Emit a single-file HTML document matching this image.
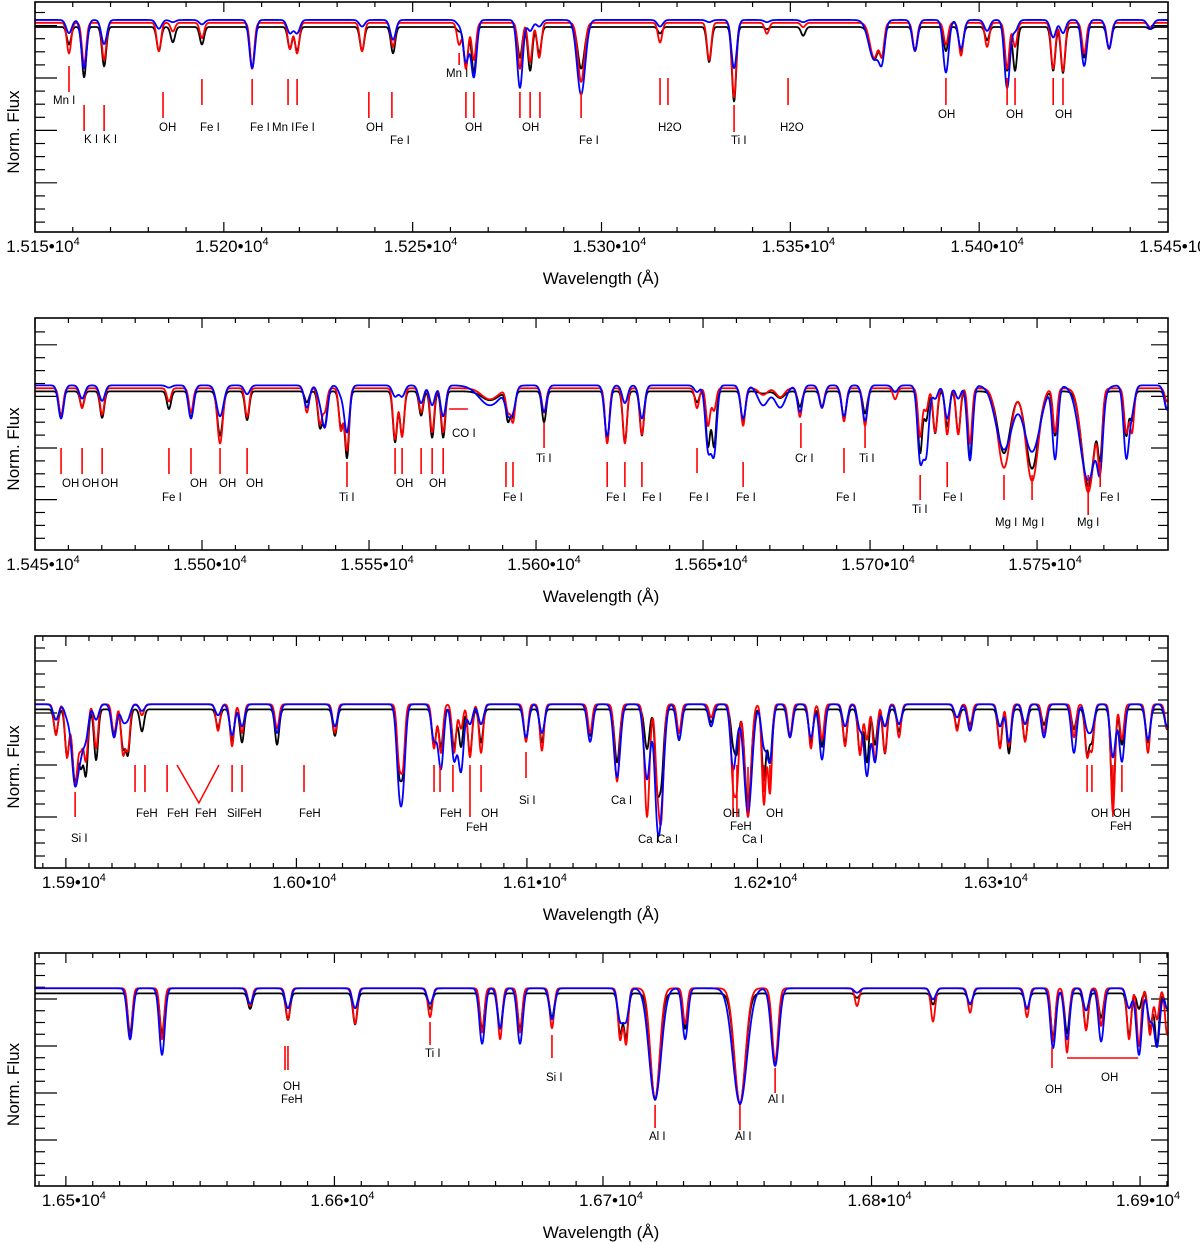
<!DOCTYPE html>
<html><head><meta charset="utf-8"><title>Spectra</title>
<style>
html,body{margin:0;padding:0;background:#fff;}
svg{display:block;font-family:"Liberation Sans",sans-serif;}
.lab{font-size:11.5px;fill:#000;}
.tick{font-size:17px;fill:#000;}
.ttl{font-size:17px;fill:#000;}
</style></head>
<body>
<svg id="chart" width="1200" height="1242" viewBox="0 0 1200 1242" xmlns="http://www.w3.org/2000/svg"></svg>
<script>
// ---------- Panel 1 data ----------
const p1Wl=[15159.0,15163.0,15168.3,15182.8,15186.5,15194.2,15207.5,15217.5,15219.4,15236.6,15244.8,15262.3,15264.1,15266.2,15278.4,15281.1,15283.5,15294.6,15315.5,15328.5,15335.1,15343.8,15353.4,15372.2,15374.3,15383.0,15391.2,15395.2,15402.1,15407.4,15409.5,15419.6,15422.2,15427.8,15434.4,15445.3];
const p1K=[.08,.23,.18,.11,.07,.08,.19,.10,.11,.11,.12,.02,.18,.21,.14,.20,.12,.19,.03,.16,.34,.01,.04,.15,.11,.11,.11,.11,.06,.20,.20,.20,.21,.14,.10,.01];
const p1R=[.14,.19,.17,.13,.04,.07,.21,.12,.14,.13,.11,.10,.21,.17,.21,.18,.16,.27,.09,.17,.34,.05,.02,.16,.13,.13,.10,.15,.11,.21,.11,.21,.22,.14,.12,.02];
const p1B=[.06,.22,.11,.04,.01,.02,.22,.06,.06,.03,.09,.02,.19,.26,.31,.05,.03,.34,.03,.01,.22,.01,.01,.18,.14,.14,.24,.13,.05,.31,.05,.08,.06,.21,.13,.04];
const p1Wm=[1,1,1,1,1,1,1,1,1,1,1,1,1,1,1,1,1,1.5,1,1,1,1,1,2,1,1,1,1,1,1,1,1,1,1,1,1];
const p1Cont=[.936,.955,.968];
const p1TkWl=[15159.0,15163.0,15168.3,15183.9,15194.2,15207.5,15217.0,15219.4,15238.4,15244.5,15262.3,15264.1,15266.2,15278.4,15281.1,15283.7,15294.6,15315.5,15317.6,15335.1,15349.4,15391.2,15407.4,15409.5,15419.6,15422.2];
const p1TkY1=[66,105,105,92,79,79,79,79,92,92,53,92,92,92,92,92,92,78,78,105,78,78,78,78,78,78];
const p1TkY2=[92,131,131,118,105,105,105,105,118,118,65,118,118,118,118,118,118,105,105,132,105,105,105,105,105,105];
const p1LabT=["Mn I","K I","K I","OH","Fe I","Fe I","Mn I","Fe I","OH","Fe I","Mn I","OH","OH","Fe I","H2O","Ti I","H2O","OH","OH","OH"];
const p1LabX=[53,84,103,159,200,250,272,295,366,390,446,465,522,579,658,731,780,938,1006,1055];
const p1LabY=[104,143,143,131,131,131,131,131,131,144,77,131,131,144,131,144,131,118,118,118];

// ---------- Panel 2 data ----------
const p2Wl=[15457.8,15464.1,15470.1,15490.1,15496.7,15505.4,15513.5,15531.4,15535.3,15536.8,15541.6,15543.4,15557.8,15559.9,15565.6,15568.9,15572.2,15586.2,15591.6,15593.1,15602.4,15621.3,15626.6,15631.7,15648.2,15651.5,15653.3,15662.0,15668.0,15673.1,15679.0,15685.6,15692.2,15698.5,15707.5,15715.0,15716.8,15719.5,15723.1,15726.4,15729.9,15740.1,15748.5,15755.4,15765.3,15768.9,15776.7,15778.4,15788.9];
const p2K=[.11,.07,.12,.08,.12,.20,.13,.05,.16,.15,.16,.30,.23,.20,.11,.21,.21,.04,.13,.11,.14,.23,.23,.20,.05,.25,.25,.14,.01,.03,.07,.07,.12,.10,.0,.28,.13,.19,.16,.19,.30,.28,.35,.20,.43,.25,.20,.13,.08];
const p2R=[.13,.09,.12,.06,.11,.25,.13,.11,.16,.10,.19,.28,.23,.22,.11,.20,.20,.05,.10,.15,.11,.25,.25,.21,.09,.17,.10,.17,.03,.04,.13,.09,.15,.17,.05,.22,.10,.20,.21,.21,.25,.36,.42,.20,.47,.31,.20,.20,.06];
const p2B=[.15,.06,.07,.01,.15,.14,.04,.10,.06,.18,.04,.21,.05,.05,.08,.09,.14,.09,.10,.10,.12,.23,.08,.15,.03,.28,.30,.15,.09,.10,.12,.10,.14,.16,.03,.33,.30,.06,.15,.06,.34,.29,.30,.33,.43,.26,.32,.11,.11];
const p2Wm=[1,1,1,1,1,1.3,1,1,1,1,1,1,1,1,1,1,1,4,1,1,1,1,1,1,1,1,1,1,2,2,1,1,1,1,1,1,1,1,1,1,1,3,3,1,3,1,1,1,1];
const p2Cont=[.718,.732,.745];
const p2TkWl=[15457.8,15464.1,15470.1,15490.1,15496.7,15505.4,15513.5,15543.4,15557.8,15559.9,15565.6,15568.9,15572.2,15591.0,15593.1,15602.4,15621.3,15626.6,15631.7,15648.2,15662.0,15679.3,15692.2,15698.5,15715.0,15723.1,15740.1,15748.5,15765.3,15768.9];
const p2TkY1=[448,448,448,448,448,448,448,462,448,448,448,448,448,462,462,423,462,462,462,448,462,423,448,423,475,462,475,475,475,462];
const p2TkY2=[474,474,474,474,474,474,474,487,474,474,474,474,474,487,487,448,487,487,487,473,487,448,473,448,500,487,500,500,515,487];
const p2LabT=["OH","OH","OH","Fe I","OH","OH","OH","Ti I","OH","OH","CO I","Fe I","Ti I","Fe I","Fe I","Fe I","Fe I","Cr I","Fe I","Ti I","Ti I","Fe I","Mg I","Mg I","Mg I","Fe I"];
const p2LabX=[62,82,101,162,190,219,246,339,396,429,452,503,536,606,642,689,736,795,836,859,912,943,995,1022,1077,1100];
const p2LabY=[487,487,487,501,487,487,487,501,487,487,437,501,462,501,501,501,501,462,501,462,513,501,526,526,526,501];

// ---------- Panel 3 data ----------
const p3Wl=[15895.7,15900.5,15904.0,15906.6,15908.7,15913.1,15920.9,15924.8,15926.9,15933.0,15966.0,15972.1,15976.4,15991.6,16016.7,16044.5,16046.2,16059.7,16062.7,16068.4,16071.4,16075.3,16080.1,16099.6,16106.5,16127.4,16139.1,16152.1,16156.4,16158.2,16166.0,16179.9,16189.4,16191.1,16195.9,16202.8,16205.4,16214.1,16223.2,16228.0,16238.0,16244.5,16247.5,16251.0,16255.3,16261.4,16286.6,16292.2,16305.2,16309.1,16316.1,16324.3,16337.3,16343.0,16345.1,16354.2,16358.1,16369.4,16377.7];
const p3K=[.11,.21,.33,.23,.29,.23,.11,.17,.20,.10,.08,.14,.15,.16,.12,.26,.26,.17,.17,.17,.17,.20,.15,.14,.15,.12,.24,.18,.29,.32,.14,.06,.14,.18,.44,.32,.24,.12,.15,.17,.15,.20,.24,.16,.20,.10,.08,.07,.17,.20,.14,.07,.09,.20,.14,.42,.16,.15,.09];
const p3R=[.14,.24,.37,.17,.25,.20,.15,.22,.20,.05,.12,.19,.13,.11,.13,.24,.26,.20,.22,.22,.11,.24,.22,.17,.21,.13,.35,.51,.25,.51,.13,.06,.33,.34,.51,.45,.40,.15,.20,.16,.19,.23,.16,.26,.22,.15,.12,.11,.20,.19,.17,.13,.15,.23,.20,.49,.16,.22,.11];
const p3B=[.07,.05,.36,.14,.14,.07,.15,.07,.06,.03,.05,.14,.10,.13,.10,.30,.31,.16,.29,.25,.30,.09,.09,.15,.13,.17,.33,.34,.37,.40,.16,.10,.27,.07,.49,.18,.25,.15,.15,.25,.10,.11,.32,.26,.10,.09,.06,.12,.10,.17,.09,.15,.22,.10,.10,.24,.26,.16,.10];
const p3Wm=[1,1,1.3,1,1,1,1,1,1,1,1,1,1,1,1,1,1,1,1,1,1,1,1,1,1,1,1.2,1.2,1,1.2,1,1,1,1,1.5,1,1,1,1,1,1,1,1,1,1,1,1,1,1,1,1,1,1,1,1,1,1,1,1];
const p3Cont=[.718,.741,.741];
const p3TkWl=[15904.0,15930.0,15934.3,15943.9,15972.1,15976.4,16003.3,16059.7,16062.3,16067.9,16075.3,16080.1,16099.6,16189.4,16191.1,16195.9,16202.8,16205.4,16343.0,16345.1,16354.2,16358.1];
const p3TkY1=[792,765,765,765,765,765,765,765,765,765,765,765,752,765,765,767,765,765,765,765,765,765];
const p3TkY2=[817,792,792,792,792,792,792,792,792,792,817,792,778,817,817,813,792,792,792,792,817,792];
const p3LabT=["Si I","FeH","FeH","FeH","SiI","FeH","FeH","FeH","FeH","OH","Si I","Ca I","Ca I","Ca I","OH","FeH","Ca I","OH","OH","OH","FeH"];
const p3LabX=[71,136,167,195,227,240,299,440,466,481,519,611,638,657,723,730,742,766,1091,1113,1110];
const p3LabY=[842,817,817,817,817,817,817,817,831,817,804,804,843,843,817,830,843,817,817,817,830];

// ---------- Panel 4 data ----------
const p4Wl=[16523.9,16535.8,16568.6,16582.7,16607.7,16635.6,16655.0,16661.7,16669.1,16681.0,16706.4,16708.6,16719.4,16730.6,16751.0,16764.1,16794.6,16822.9,16836.7,16857.9,16867.6,16872.8,16879.9,16885.5,16895.9,16899.6,16903.7,16906.3,16910.1];
const p4K=[.18,.18,.07,.12,.14,.07,.16,.16,.16,.11,.18,.20,.48,.16,.50,.32,.02,.05,.05,.07,.20,.18,.16,.11,.19,.07,.16,.23,.07];
const p4R=[.23,.23,.08,.14,.16,.13,.20,.23,.20,.18,.23,.25,.50,.16,.52,.33,.08,.15,.11,.13,.24,.29,.19,.17,.23,.26,.21,.14,.21];
const p4B=[.23,.30,.07,.09,.09,.07,.25,.18,.25,.14,.14,.14,.50,.23,.52,.35,.02,.05,.07,.09,.27,.23,.10,.24,.09,.30,.14,.26,.09];
const p4Wm=[1,1,1,1,1,1,1,1,1,1,1,1,2.2,1,2.6,1.4,1,1,1,1,1,1,1,1,1,1,1,1,1];
const p4Cont=[.868,.891,.891];
const p4TkWl=[16581.6,16582.7,16635.6,16681.0,16719.4,16751.0,16764.1,16867.2];
const p4TkY1=[1046,1046,1022,1035,1105,1105,1068,1047];
const p4TkY2=[1070,1070,1045,1058,1128,1130,1093,1068];
const p4LabT=["OH","FeH","Ti I","Si I","Al I","Al I","Al I","OH","OH"];
const p4LabX=[283,281,425,546,649,735,768,1045,1101];
const p4LabY=[1090,1103,1057,1081,1140,1140,1103,1093,1081];

// ---------- rendering ----------
const NS="http://www.w3.org/2000/svg";
const svg=document.getElementById('chart');
const L=35,R=1168;
function mk(tag,attrs,parent){const e=document.createElementNS(NS,tag);for(const k in attrs)e.setAttribute(k,attrs[k]);(parent||svg).appendChild(e);return e;}

const panels=[
 {top:2,bottom:232,x0:15150,x1:15450,major:50,dec:3,sig:0.56,ysp:13.1,ya:78,wl:p1Wl,k:p1K,r:p1R,b:p1B,wm:p1Wm,cont:p1Cont,tw:p1TkWl,t1:p1TkY1,t2:p1TkY2,lt:p1LabT,lx:p1LabX,ly:p1LabY},
 {top:318,bottom:550,x0:15450,x1:15789.2,major:50,dec:3,sig:0.62,ysp:12.9,ya:448,wl:p2Wl,k:p2K,r:p2R,b:p2B,wm:p2Wm,cont:p2Cont,tw:p2TkWl,t1:p2TkY1,t2:p2TkY2,lt:p2LabT,lx:p2LabX,ly:p2LabY},
 {top:636,bottom:868,x0:15886.6,x1:16378.1,major:100,dec:2,sig:0.88,ysp:13.0,ya:765,wl:p3Wl,k:p3K,r:p3R,b:p3B,wm:p3Wm,cont:p3Cont,tw:p3TkWl,t1:p3TkY1,t2:p3TkY2,lt:p3LabT,lx:p3LabX,ly:p3LabY},
 {top:953,bottom:1186,x0:16488.5,x1:16910.4,major:100,dec:2,sig:0.78,ysp:11.75,ya:1046,wl:p4Wl,k:p4K,r:p4R,b:p4B,wm:p4Wm,cont:p4Cont,tw:p4TkWl,t1:p4TkY1,t2:p4TkY2,lt:p4LabT,lx:p4LabX,ly:p4LabY}
];

panels.forEach((p,pi)=>{
  const g=mk('g',{});
  
  
  const H=p.bottom-p.top;
  const xs=w=>L+(w-p.x0)/(p.x1-p.x0)*(R-L);
  const ys=f=>p.bottom-f*H/1.05;

  const first=Math.ceil(p.x0/10)*10;
  for(let v=first;v<=p.x1+0.01;v+=10){
    const x=xs(v);const maj=Math.abs(v/p.major-Math.round(v/p.major))<1e-6;
    const len=maj?10:5;
    const t1=mk('line',{x1:x,x2:x,y1:p.bottom,y2:p.bottom-len,stroke:'#000','stroke-width':1.2},g);
    
    
    const t2=mk('line',{x1:x,x2:x,y1:p.top,y2:p.top+len,stroke:'#000','stroke-width':1.2},g);
    
    
    if(maj){
      const t=mk('text',{x:x+8,y:p.bottom+20,'text-anchor':'middle',class:'tick'},g);
      
      
      t.textContent=(v/1e4).toFixed(p.dec)+'\u202210';
      const s=mk('tspan',{dy:-7,'font-size':'11px'},t);s.textContent='4';
    }
  }
  for(let k=-20;k<=20;k++){
    const y=p.ya+k*p.ysp;
    if(y<=p.top+2||y>=p.bottom-2)continue;
    const maj=(((k%4)+4)%4)===0;
    const lenL=maj?22:10,lenR=maj?17:10;
    const a=mk('line',{x1:L,x2:L+lenL,y1:y,y2:y,stroke:'#000','stroke-width':1.2},g);
    
    
    const b=mk('line',{x1:R,x2:R-lenR,y1:y,y2:y,stroke:'#000','stroke-width':1.2},g);
    
    
  }
  const cols=['#000','#f00','#00f'];
  const names=['observed-spectrum','model-spectrum-red','model-spectrum-blue'];
  const deps=[p.k,p.r,p.b];
  const sigm=[1,1,1.3];
  const step=(p.x1-p.x0)/2266;
  for(let s=0;s<3;s++){
    let d='';
    for(let w=p.x0;w<=p.x1+1e-9;w+=step){
      let f=p.cont[s];
      for(let i=0;i<p.wl.length;i++){
        const sg=p.sig*p.wm[i]*sigm[s];const z=(w-p.wl[i])/sg;
        if(z>-5&&z<5)f-=deps[s][i]*Math.exp(-0.5*z*z);
      }
      d+=(d?'L':'M')+xs(w).toFixed(2)+' '+ys(f).toFixed(2);
    }
    const path=mk('path',{d:d,fill:'none',stroke:cols[s],'stroke-width':1.8,'stroke-linejoin':'round'},g);
    
    
  }
  for(let i=0;i<p.tw.length;i++){
    const x=xs(p.tw[i]);
    const ln=mk('line',{x1:x,x2:x,y1:p.t1[i],y2:p.t2[i],stroke:'#f00','stroke-width':1.6},g);
    
    
  }
  for(let i=0;i<p.lt.length;i++){
    const t=mk('text',{x:p.lx[i],y:p.ly[i],class:'lab'},g);
    
    
    t.textContent=p.lt[i];
  }
  if(pi===1){
    const c=mk('line',{x1:xs(15574.0),x2:xs(15579.6),y1:409,y2:409,stroke:'#f00','stroke-width':1.6},g);
    
    
  }
  if(pi===2){
    const v=mk('polyline',{points:xs(15948.2)+',765 '+xs(15957.7)+',803 '+xs(15966.4)+',765',fill:'none',stroke:'#f00','stroke-width':1.5},g);
    
    
  }
  if(pi===3){
    const h=mk('line',{x1:xs(16872.8),x2:xs(16899.3),y1:1058,y2:1058,stroke:'#f00','stroke-width':1.6},g);
    
    
  }
  const fr=mk('rect',{x:L,y:p.top,width:R-L,height:H,fill:'none',stroke:'#000','stroke-width':1.6},g);
  
  
  const xt=mk('text',{x:601,y:p.bottom+52,'text-anchor':'middle',class:'ttl'},g);
  
  
  xt.textContent='Wavelength (\u00C5)';
  const cy=(p.top+p.bottom)/2+15;
  const yt=mk('text',{x:19,y:cy,'text-anchor':'middle',class:'ttl',transform:'rotate(-90 19 '+cy+')'},g);
  
  
  yt.textContent='Norm. Flux';
});
</script>
</body></html>
